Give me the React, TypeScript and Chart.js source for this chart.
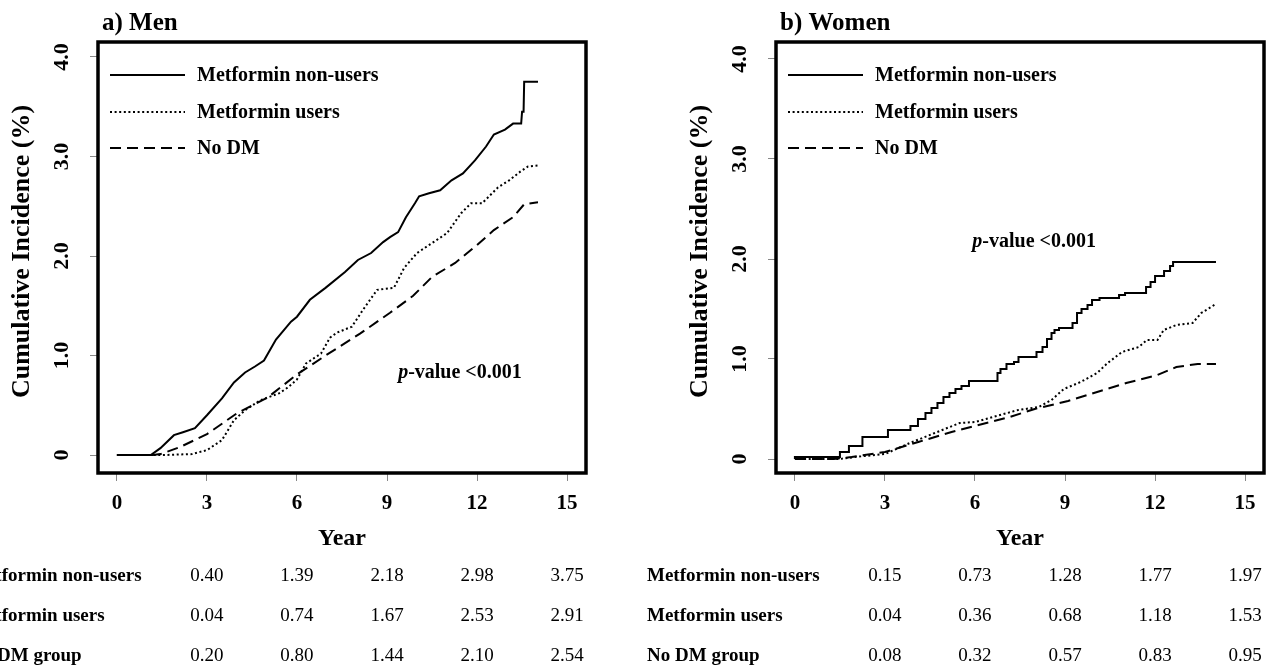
import React, { useEffect, useRef } from "react";
import { Chart, registerables } from "chart.js";

Chart.register(...registerables);

const SERIF = '"Liberation Serif", "Times New Roman", serif';

// ---- axes / labels ----
const X_TICKS = [0, 3, 6, 9, 12, 15];
const Y_TICKS = [0, 1, 2, 3, 4];
const Y_TICK_LABELS = ["0", "1.0", "2.0", "3.0", "4.0"];
const SERIES_NAMES = ["Metformin non-users", "Metformin users", "No DM"];
const TABLE_ROW_LABELS = ["Metformin non-users", "Metformin users", "No DM group"];
const TABLE_YEARS = [3, 6, 9, 12, 15];

// ---- Men ----
const MEN_NONUSERS_X = [0, 1.13, 1.45, 1.9, 2.2, 2.6, 3.0, 3.5, 3.9, 4.27, 4.6, 4.9, 5.3, 5.8, 6.0, 6.43, 6.95, 7.6, 8.03, 8.47, 8.87, 9.1, 9.37, 9.63, 9.93, 10.07, 10.4, 10.77, 11.15, 11.53, 11.93, 12.3, 12.56, 12.93, 13.2, 13.47, 13.5, 13.55, 13.57, 14.03];
const MEN_NONUSERS_Y = [0, 0, 0.07, 0.2, 0.23, 0.27, 0.4, 0.57, 0.73, 0.83, 0.89, 0.95, 1.16, 1.34, 1.39, 1.56, 1.68, 1.84, 1.96, 2.03, 2.14, 2.19, 2.24, 2.39, 2.53, 2.6, 2.63, 2.66, 2.76, 2.83, 2.96, 3.1, 3.22, 3.27, 3.33, 3.33, 3.45, 3.45, 3.75, 3.75];
const MEN_USERS_X = [0, 1.5, 2.5, 3.0, 3.5, 3.9, 4.27, 4.77, 5.4, 5.7, 6.0, 6.3, 6.8, 7.1, 7.33, 7.83, 8.2, 8.67, 9.23, 9.57, 10.0, 10.5, 11.0, 11.47, 11.8, 12.17, 12.7, 13.07, 13.45, 13.7, 14.03];
const MEN_USERS_Y = [0, 0, 0.01, 0.05, 0.15, 0.35, 0.45, 0.55, 0.62, 0.68, 0.76, 0.92, 1.02, 1.18, 1.23, 1.29, 1.46, 1.66, 1.68, 1.88, 2.03, 2.13, 2.23, 2.43, 2.53, 2.53, 2.69, 2.76, 2.85, 2.9, 2.91];
const MEN_NODM_X = [0, 1.2, 1.45, 2.1, 3.0, 4.0, 5.03, 6.0, 6.95, 8.1, 9.1, 9.87, 10.5, 11.27, 12.0, 12.56, 13.2, 13.57, 14.03];
const MEN_NODM_Y = [0, 0, 0.01, 0.08, 0.21, 0.42, 0.58, 0.81, 1.0, 1.22, 1.43, 1.6, 1.79, 1.93, 2.11, 2.26, 2.39, 2.52, 2.54];
const MEN_TABLE_NONUSERS = [0.4, 1.39, 2.18, 2.98, 3.75];
const MEN_TABLE_USERS = [0.04, 0.74, 1.67, 2.53, 2.91];
const MEN_TABLE_NODM = [0.2, 0.8, 1.44, 2.1, 2.54];

// ---- Women ----
const WOMEN_NONUSERS_X = [0, 1.5, 1.8, 2.25, 3.1, 3.85, 4.1, 4.35, 4.55, 4.75, 4.95, 5.15, 5.35, 5.55, 5.8, 6.75, 6.85, 7.05, 7.3, 7.45, 8.05, 8.25, 8.4, 8.55, 8.65, 8.8, 9.25, 9.4, 9.55, 9.75, 9.9, 10.15, 10.8, 11.0, 11.7, 11.85, 12.0, 12.3, 12.5, 12.6, 12.7, 14.03];
const WOMEN_NONUSERS_Y = [0, 0.02, 0.07, 0.13, 0.22, 0.29, 0.33, 0.4, 0.46, 0.51, 0.56, 0.62, 0.66, 0.7, 0.73, 0.78, 0.86, 0.9, 0.95, 0.97, 1.02, 1.07, 1.12, 1.2, 1.26, 1.29, 1.31, 1.36, 1.46, 1.5, 1.54, 1.59, 1.61, 1.64, 1.66, 1.72, 1.77, 1.83, 1.88, 1.93, 1.97, 1.97];
const WOMEN_USERS_X = [0, 1.5, 2.0, 3.0, 3.83, 4.66, 5.49, 6.0, 6.6, 7.44, 8.13, 8.55, 8.96, 9.52, 10.07, 10.42, 10.9, 11.46, 11.73, 12.08, 12.29, 12.71, 13.25, 13.54, 14.03];
const WOMEN_USERS_Y = [0, 0, 0.02, 0.05, 0.16, 0.26, 0.36, 0.37, 0.42, 0.49, 0.52, 0.59, 0.7, 0.77, 0.86, 0.96, 1.07, 1.12, 1.19, 1.19, 1.29, 1.34, 1.36, 1.46, 1.55];
const WOMEN_NODM_X = [0, 1.3, 1.89, 3.0, 4.11, 5.22, 6.0, 7.16, 7.99, 9.1, 10.07, 11.04, 12.08, 12.71, 13.42, 14.03];
const WOMEN_NODM_Y = [0, 0, 0.02, 0.07, 0.17, 0.27, 0.33, 0.42, 0.5, 0.58, 0.67, 0.76, 0.84, 0.92, 0.95, 0.95];
const WOMEN_TABLE_NONUSERS = [0.15, 0.73, 1.28, 1.77, 1.97];
const WOMEN_TABLE_USERS = [0.04, 0.36, 0.68, 1.18, 1.53];
const WOMEN_TABLE_NODM = [0.08, 0.32, 0.57, 0.83, 0.95];

type Panel = {
  title: [string, string];
  nonX: number[]; nonY: number[];
  usrX: number[]; usrY: number[];
  dmX: number[]; dmY: number[];
  table: number[][];
  yMin: number; yMax: number;
  yAxisW: number;
  padRight: number;
  pval: [number, number];
  stepSolid: boolean;
};

const MEN: Panel = {
  title: ["a)", " Men"],
  nonX: MEN_NONUSERS_X, nonY: MEN_NONUSERS_Y,
  usrX: MEN_USERS_X, usrY: MEN_USERS_Y,
  dmX: MEN_NODM_X, dmY: MEN_NODM_Y,
  table: [MEN_TABLE_NONUSERS, MEN_TABLE_USERS, MEN_TABLE_NODM],
  yMin: -0.18, yMax: 4.15,
  yAxisW: 98,
  padRight: 34,
  pval: [11.43, 0.83],
  stepSolid: false,
};

const WOMEN: Panel = {
  title: ["b)", " Women"],
  nonX: WOMEN_NONUSERS_X, nonY: WOMEN_NONUSERS_Y,
  usrX: WOMEN_USERS_X, usrY: WOMEN_USERS_Y,
  dmX: WOMEN_NODM_X, dmY: WOMEN_NODM_Y,
  table: [WOMEN_TABLE_NONUSERS, WOMEN_TABLE_USERS, WOMEN_TABLE_NODM],
  yMin: -0.14, yMax: 4.17,
  yAxisW: 156,
  padRight: 4,
  pval: [7.97, 2.17],
  stepSolid: true,
};

const DASHES: number[][] = [[], [2, 2.6], [11, 6]];

function pts(xs: number[], ys: number[]) {
  return xs.map((x, i) => ({ x, y: ys[i] }));
}

function buildChart(canvas: HTMLCanvasElement, p: Panel) {
  const X_AXIS_H = 84;
  const decor = {
    id: "decor",
    afterDraw(chart: any) {
      const ctx: CanvasRenderingContext2D = chart.ctx;
      const ca = chart.chartArea;
      const xs = chart.scales.x;
      const ys = chart.scales.y;
      ctx.save();
      ctx.fillStyle = "#000";
      ctx.strokeStyle = "#000";
      // box
      ctx.lineWidth = 3.5;
      ctx.setLineDash([]);
      ctx.strokeRect(ca.left, ca.top, ca.right - ca.left, ca.bottom - ca.top);

      // panel title
      ctx.textAlign = "left";
      ctx.textBaseline = "alphabetic";
      ctx.font = `bold 25px ${SERIF}`;
      ctx.fillText(p.title[0], ca.left + 4, 30);
      const w0 = ctx.measureText(p.title[0]).width;
      ctx.fillText(p.title[1], ca.left + 4 + w0, 30);

      // legend
      const ly = [75, 112, 148];
      for (let i = 0; i < 3; i++) {
        ctx.beginPath();
        ctx.lineWidth = 2;
        ctx.setLineDash(DASHES[i]);
        ctx.moveTo(ca.left + 12, ly[i]);
        ctx.lineTo(ca.left + 87, ly[i]);
        ctx.stroke();
        ctx.setLineDash([]);
        ctx.font = `bold 20px ${SERIF}`;
        ctx.textBaseline = "middle";
        ctx.textAlign = "left";
        ctx.fillText(SERIES_NAMES[i], ca.left + 99, ly[i] + 1);
      }

      // y tick labels (rotated)
      ctx.font = `bold 22px ${SERIF}`;
      ctx.textAlign = "center";
      ctx.textBaseline = "middle";
      Y_TICKS.forEach((v, i) => {
        const py = ys.getPixelForValue(v);
        ctx.save();
        ctx.translate(ca.left - 36, py);
        ctx.rotate(-Math.PI / 2);
        ctx.fillText(Y_TICK_LABELS[i], 0, 0);
        ctx.restore();
      });

      // y title
      ctx.save();
      ctx.font = `bold 26px ${SERIF}`;
      ctx.translate(ca.left - 76, (ca.top + ca.bottom) / 2 - 6);
      ctx.rotate(-Math.PI / 2);
      ctx.textAlign = "center";
      ctx.textBaseline = "middle";
      ctx.fillText("Cumulative Incidence (%)", 0, 0);
      ctx.restore();

      // p-value
      {
        const cx = xs.getPixelForValue(p.pval[0]);
        const cy = ys.getPixelForValue(p.pval[1]);
        ctx.textBaseline = "middle";
        ctx.textAlign = "left";
        ctx.font = `italic bold 20px ${SERIF}`;
        const wp = ctx.measureText("p").width;
        ctx.font = `bold 20px ${SERIF}`;
        const wr = ctx.measureText("-value <0.001").width;
        const x0 = cx - (wp + wr) / 2;
        ctx.font = `italic bold 20px ${SERIF}`;
        ctx.fillText("p", x0, cy);
        ctx.font = `bold 20px ${SERIF}`;
        ctx.fillText("-value <0.001", x0 + wp, cy);
      }

      // table
      const rowY = [581, 621, 661];
      for (let r = 0; r < 3; r++) {
        ctx.font = `bold 19px ${SERIF}`;
        ctx.textAlign = "left";
        ctx.textBaseline = "alphabetic";
        ctx.fillText(TABLE_ROW_LABELS[r], ca.left - 129, rowY[r]);
        ctx.font = `19px ${SERIF}`;
        ctx.textAlign = "center";
        TABLE_YEARS.forEach((yr, c) => {
          ctx.fillText(p.table[r][c].toFixed(2), xs.getPixelForValue(yr), rowY[r]);
        });
      }
      ctx.restore();
    },
  };

  const common = { borderColor: "#000", borderWidth: 2, pointRadius: 0, tension: 0, fill: false };
  return new Chart(canvas, {
    type: "line",
    data: {
      datasets: [
        { ...common, label: SERIES_NAMES[0], data: pts(p.nonX, p.nonY), stepped: p.stepSolid ? "after" : false },
        { ...common, label: SERIES_NAMES[1], data: pts(p.usrX, p.usrY), borderDash: DASHES[1] },
        { ...common, label: SERIES_NAMES[2], data: pts(p.dmX, p.dmY), borderDash: DASHES[2] },
      ],
    } as any,
    options: {
      animation: false,
      responsive: false,
      devicePixelRatio: 1,
      layout: { padding: { top: 42, left: 0, right: p.padRight, bottom: 669 - 473 - X_AXIS_H } },
      plugins: { legend: { display: false }, tooltip: { enabled: false } },
      scales: {
        x: {
          type: "linear",
          min: -0.63,
          max: 15.63,
          afterFit: (s: any) => { s.height = X_AXIS_H; },
          afterBuildTicks: (s: any) => { s.ticks = X_TICKS.map((v) => ({ value: v })); },
          grid: { drawOnChartArea: false, drawTicks: true, tickLength: 8, color: "#888", lineWidth: 1 },
          border: { display: false },
          ticks: {
            autoSkip: false,
            maxRotation: 0,
            padding: 10,
            color: "#000",
            font: { family: SERIF, weight: "bold", size: 21 },
            callback: (v: any) => String(v),
          },
          title: {
            display: true,
            text: "Year",
            color: "#000",
            font: { family: SERIF, weight: "bold", size: 24 },
            padding: { top: 0, bottom: 4 },
          },
        },
        y: {
          type: "linear",
          min: p.yMin,
          max: p.yMax,
          afterFit: (s: any) => { s.width = p.yAxisW; },
          afterBuildTicks: (s: any) => { s.ticks = Y_TICKS.map((v) => ({ value: v })); },
          grid: { drawOnChartArea: false, drawTicks: true, tickLength: 8, color: "#888", lineWidth: 1 },
          border: { display: false },
          ticks: { display: false },
        },
      },
    } as any,
    plugins: [decor],
  });
}

export default function App() {
  const leftRef = useRef<HTMLCanvasElement>(null);
  const rightRef = useRef<HTMLCanvasElement>(null);
  useEffect(() => {
    const c1 = buildChart(leftRef.current!, MEN);
    const c2 = buildChart(rightRef.current!, WOMEN);
    return () => {
      c1.destroy();
      c2.destroy();
    };
  }, []);
  return (
    <div style={{ position: "absolute", left: 0, top: 0, width: 1268, height: 669, background: "#fff", overflow: "hidden" }}>
      <canvas ref={leftRef} width={620} height={669} style={{ position: "absolute", left: 0, top: 0 }} />
      <canvas ref={rightRef} width={648} height={669} style={{ position: "absolute", left: 620, top: 0 }} />
    </div>
  );
}
